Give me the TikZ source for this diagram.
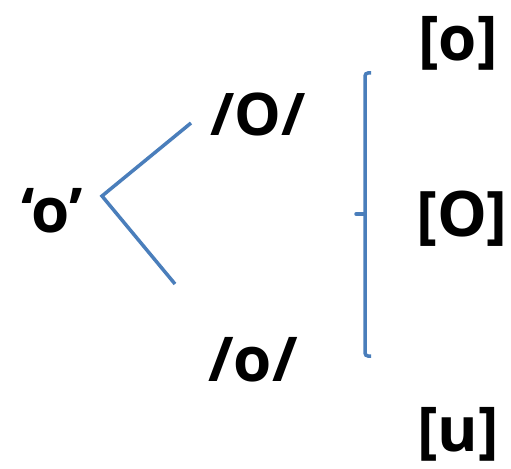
\documentclass[tikz,border=0pt]{standalone}
\usepackage{fontspec}
\setmainfont{Open Sans}
\definecolor{lineblue}{HTML}{4A7EBB}
\begin{document}
\begin{tikzpicture}[x=1bp,y=-1bp,
  lbl/.style={inner sep=0pt,anchor=base,font=\bfseries\fontsize{62}{62}\selectfont},
  caplbl/.style={inner sep=0pt,anchor=base,font=\bfseries\fontsize{59}{59}\selectfont},
  big/.style={inner sep=0pt,anchor=base,font=\bfseries\fontsize{63}{63}\selectfont},
  conn/.style={lineblue,line width=3.5bp}]
\useasboundingbox (0,0) rectangle (511,469);
\node[lbl] (q) at (52,233) {‘o’};
\node[caplbl] (O1) at (258,136) {/O/};
\node[lbl] (o1) at (253,381) {/o/};
\node[lbl] (so) at (458,61) {[o]};
\node[big] (sO) at (462,237) {[O]};
\node[lbl] (su) at (458,451) {[u]};
\coordinate (v) at (102,196);
\coordinate (a) at (191,123);
\coordinate (b) at (175,284);
\draw[conn] (a) -- (v) -- (b);
\coordinate (bt) at (371,73);
\coordinate (bb) at (371,356);
\coordinate (bm) at (356,214);
\draw[conn,rounded corners=3bp] (bt) -- (365,73) -- (365,356) -- (bb);
\draw[conn,line cap=round] (bm) -- (365,214);
\end{tikzpicture}
\end{document}
